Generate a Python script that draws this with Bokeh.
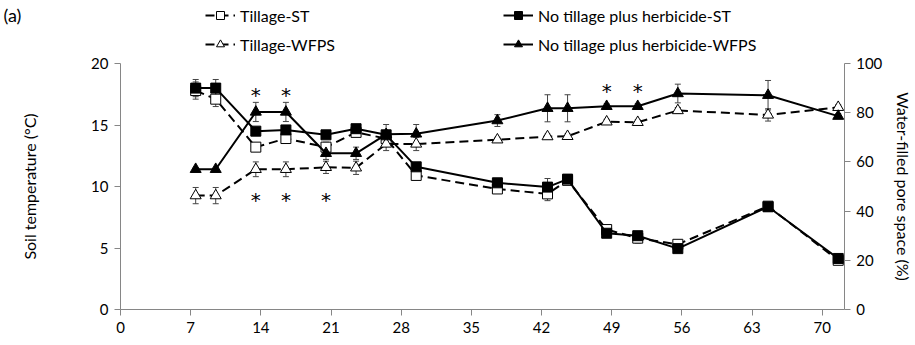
from bokeh.plotting import figure
from bokeh.models import (Range1d, LinearAxis, Legend, LegendItem, ColumnDataSource,
                          Whisker, TeeHead, FixedTicker, Label)
from bokeh.core.properties import value
from bokeh.embed import file_html
from bokeh.resources import INLINE

days = [7.5, 9.5, 13.5, 16.5, 20.5, 23.5, 26.5, 29.5, 37.6, 42.6, 44.6, 48.5, 51.6, 55.6, 64.6, 71.6]
t_st = [17.8, 17.1, 13.2, 13.9, 13.2, 14.4, 13.9, 10.9, 9.8, 9.4, 10.5, 6.5, 5.8, 5.3, 8.4, 4.0]
nt_st = [18.0, 18.0, 14.5, 14.6, 14.2, 14.7, 14.2, 11.6, 10.3, 9.95, 10.6, 6.2, 6.0, 4.95, 8.35, 4.15]
t_wfps = [46.3, 46.3, 57.0, 57.0, 57.8, 57.6, 67.3, 67.3, 69.0, 70.3, 70.4, 76.3, 76.1, 80.9, 79.1, 82.2]
nt_wfps = [57.0, 57.0, 80.3, 80.3, 63.5, 63.5, 71.2, 71.4, 76.8, 81.8, 81.8, 82.6, 82.6, 87.8, 87.1, 78.6]

t_st_err = [0.7, 0.6, 0.3, 0.3, 0.4, 0.2, 0.5, 0.2, 0.2, 0.55, 0.2, 0.2, 0.4, 0.2, 0.2, 0.2]
nt_st_err = [0.7, 0.7, 0.3, 0.3, 0.2, 0.2, 0.3, 0.2, 0.2, 0.7, 0.2, 0.3, 0.3, 0.2, 0.2, 0.2]
t_wfps_err = [3.3, 3.3, 3.0, 3.0, 2.5, 2.7, 2.7, 2.7, 1.0, 1.0, 1.0, 1.0, 1.0, 1.2, 2.5, 1.0]
nt_wfps_err = [0.5, 0.5, 3.9, 3.9, 2.5, 2.5, 4.0, 3.8, 2.4, 5.5, 5.5, 1.0, 1.0, 3.8, 6.0, 1.0]

star_up_days = [13.5, 16.5, 48.5, 51.6]
star_up_y = [17.45, 17.45, 17.75, 17.75]
star_lo_days = [13.5, 16.5, 20.5]
star_lo_y = [8.9, 8.9, 8.9]

x_ticks = [0, 7, 14, 21, 28, 35, 42, 49, 56, 63, 70]
left_ticks = [0, 5, 10, 15, 20]
right_ticks = [0, 20, 40, 60, 80, 100]

FONT = "Lato"
AX = "#868686"

W, H = 915, 345
# plot area geometry (pixels)
X0PX, XSCALE = 120.0, 10.024      # day 0 position, px per day
Y0PX, YSCALE = 309.0, 12.3        # temp 0 position (from top), px per degree
XMAX = 72.2

x_rng = Range1d(-X0PX / XSCALE, (W - X0PX) / XSCALE)
y_rng = Range1d(-(H - Y0PX) / YSCALE, Y0PX / YSCALE)
w_rng = Range1d(y_rng.start * 5, y_rng.end * 5)

p = figure(width=W, height=H, x_range=x_rng, y_range=y_rng,
           output_backend="svg", toolbar_location=None, x_axis_type=None, y_axis_type=None,
           min_border_left=0, min_border_right=0, min_border_top=0, min_border_bottom=0)
p.extra_y_ranges = {"wfps": w_rng}
p.outline_line_color = None
p.background_fill_color = "white"
p.border_fill_color = "white"

def style_axis(ax):
    ax.axis_line_color = AX
    ax.major_tick_line_color = AX
    ax.minor_tick_line_color = None
    ax.major_tick_out = 6
    ax.major_tick_in = 0
    ax.major_label_text_font = FONT
    ax.major_label_text_font_size = "15px"
    ax.major_label_text_color = "#000000"
    ax.axis_label_text_font = FONT
    ax.axis_label_text_font_size = "16px"
    ax.axis_label_text_font_style = "normal"
    ax.axis_label_text_color = "#000000"

xax = LinearAxis(ticker=FixedTicker(ticks=x_ticks), fixed_location=0, bounds=(0, XMAX))
style_axis(xax)
xax.major_label_standoff = 6
p.add_layout(xax, "below")

lax = LinearAxis(ticker=FixedTicker(ticks=left_ticks), fixed_location=0, bounds=(0, 20),
                 axis_label="Soil temperature (°C)")
style_axis(lax)
lax.major_label_standoff = 6
lax.axis_label_standoff = 49
p.add_layout(lax, "left")

rax = LinearAxis(y_range_name="wfps", ticker=FixedTicker(ticks=right_ticks), fixed_location=XMAX,
                 bounds=(0, 100), axis_label="Water-filled pore space (%)")
style_axis(rax)
rax.major_label_standoff = 6
rax.axis_label_standoff = 8
p.add_layout(rax, "right")

def whisk(x, y, err, rng=None):
    src = ColumnDataSource(dict(x=x, lo=[a - b for a, b in zip(y, err)], hi=[a + b for a, b in zip(y, err)]))
    kw = {}
    if rng:
        kw["y_range_name"] = rng
    w = Whisker(source=src, base="x", lower="lo", upper="hi", dimension="height",
                line_color="#444444", line_width=1,
                upper_head=TeeHead(size=6, line_color="#444444", line_width=1),
                lower_head=TeeHead(size=6, line_color="#444444", line_width=1), **kw)
    p.add_layout(w)

whisk(days, t_st, t_st_err)
whisk(days, t_wfps, t_wfps_err, "wfps")
whisk(days, nt_st, nt_st_err)
whisk(days, nt_wfps, nt_wfps_err, "wfps")

DASH = "9 5"
l1 = p.line(days, t_st, line_color="black", line_width=2, line_dash=DASH)
s1 = p.scatter(days, t_st, marker="square", size=10, fill_color="white", line_color="black", line_width=1)
l2 = p.line(days, t_wfps, line_color="black", line_width=2, line_dash=DASH, y_range_name="wfps")
s2 = p.scatter(days, t_wfps, marker="triangle", size=11, fill_color="white", line_color="black",
               line_width=1, y_range_name="wfps")
l3 = p.line(days, nt_st, line_color="black", line_width=2)
s3 = p.scatter(days, nt_st, marker="square", size=10, fill_color="black", line_color="black")
l4 = p.line(days, nt_wfps, line_color="black", line_width=2, y_range_name="wfps")
s4 = p.scatter(days, nt_wfps, marker="triangle", size=11, fill_color="black", line_color="black",
               y_range_name="wfps")

for xs, ys in ((star_up_days, star_up_y), (star_lo_days, star_lo_y)):
    p.text(xs, ys, text=["*"] * len(xs), text_font=value("DejaVu Sans"), text_font_size="20px",
           text_align="center", text_baseline="middle", text_color="black")

def mk_legend(items, x):
    leg = Legend(items=items, location=(x, H - 54), orientation="vertical",
                 glyph_width=30, glyph_height=20, label_height=20, label_standoff=5,
                 spacing=9, padding=0, margin=0, border_line_alpha=0, background_fill_alpha=0,
                 label_text_font=FONT, label_text_font_size="16px", label_text_color="black")
    p.add_layout(leg, "center")

mk_legend([LegendItem(label="Tillage-ST", renderers=[l1, s1]),
           LegendItem(label="Tillage-WFPS", renderers=[l2, s2])], 205)
mk_legend([LegendItem(label="No tillage plus herbicide-ST", renderers=[l3, s3]),
           LegendItem(label="No tillage plus herbicide-WFPS", renderers=[l4, s4])], 503)

p.add_layout(Label(x=3, y=H - 3, x_units="screen", y_units="screen", text="(a)", text_font=FONT,
                   text_font_size="18px", text_color="black", text_baseline="top"))

open("out.html", "w").write(file_html(p, INLINE))
